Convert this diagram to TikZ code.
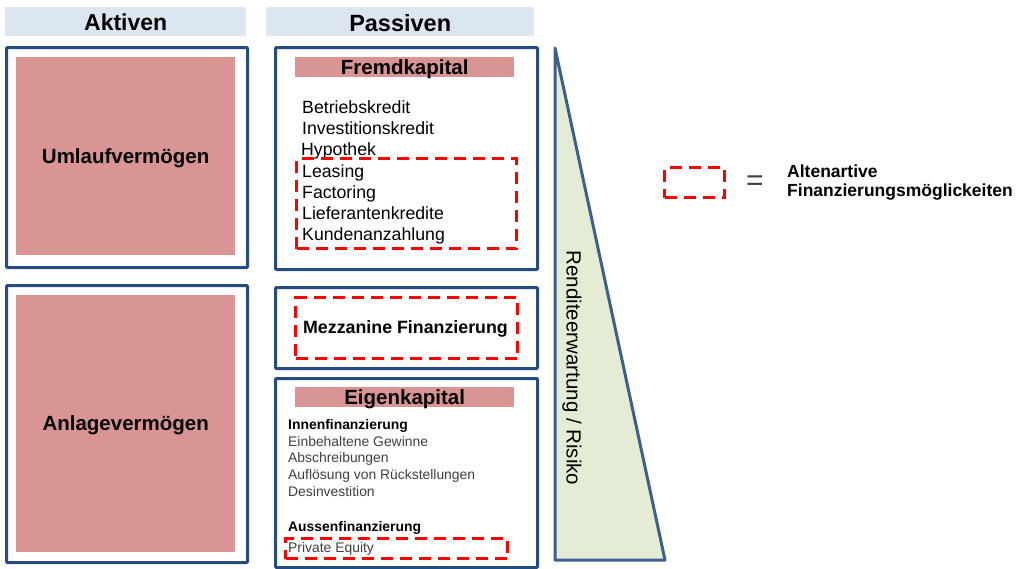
\documentclass[tikz,border=0pt]{standalone}
\usepackage{fontspec}
\setmainfont{Liberation Sans}
\definecolor{hdr}{HTML}{DCE6F2}
\definecolor{bord}{HTML}{244C80}
\definecolor{pink}{HTML}{D99594}
\definecolor{tri}{HTML}{E4ECD6}
\definecolor{tribord}{HTML}{3C5F8E}
\definecolor{graytxt}{HTML}{404040}
\newcommand{\fs}[1]{\fontsize{#1pt}{#1pt}\selectfont}
\tikzset{
  hdrbox/.style={fill=hdr, draw=none, anchor=north west, inner sep=0},
  outerbox/.style={draw=bord, line width=3pt, rounded corners=1pt, fill=white, anchor=north west, inner sep=0},
  pinkbox/.style={fill=pink, draw=none, anchor=north west, inner sep=0},
  altbox/.style={draw=red, line width=3pt, dash pattern=on 12pt off 7pt, anchor=north west, inner sep=0, fill=none},
  listtxt/.style={anchor=base west, inner sep=0, font=\fs{17.7}},
  smalltxt/.style={anchor=base west, inner sep=0, font=\fs{13.9}, text=graytxt},
  smallbold/.style={anchor=base west, inner sep=0, font=\fs{13.9}\bfseries},
}
\begin{document}
\begin{tikzpicture}[x=1pt,y=-1pt]
\useasboundingbox (0,0) rectangle (1018,568);
% headers
\node[hdrbox, minimum width=241, minimum height=29] (hA) at (5,7) {};
\node[font=\fs{23}\bfseries] at ([yshift=-1]hA.center) {Aktiven};
\node[hdrbox, minimum width=268, minimum height=29] (hP) at (266,7) {};
\node[font=\fs{23.5}\bfseries] at ([yshift=-1]hP.center) {Passiven};
% Aktiva
\node[outerbox, minimum width=241, minimum height=220] (ak1) at (5,46) {};
\node[pinkbox, minimum width=219, minimum height=198] (uv) at (16,57) {};
\node[font=\fs{20.5}\bfseries] at ([yshift=-2]uv.center) {Umlaufverm\"ogen};
\node[outerbox, minimum width=241, minimum height=277] (ak2) at (5,284) {};
\node[pinkbox, minimum width=219, minimum height=257] (av) at (16,295) {};
\node[font=\fs{20.5}\bfseries] at ([yshift=-2]av.center) {Anlageverm\"ogen};
% Passiva: Fremdkapital
\node[outerbox, minimum width=262, minimum height=222] (fk) at (274,46) {};
\node[pinkbox, minimum width=219, minimum height=20] (fkb) at (295,57) {};
\node[font=\fs{20.5}\bfseries] at ([yshift=-2]fkb.center) {Fremdkapital};
\node[listtxt] (l1) at (302,113) {Betriebskredit};
\node[listtxt] (l2) at (302,134) {Investitionskredit};
\node[listtxt] (l3) at (301,155) {Hypothek};
\node[listtxt] (l4) at (302,177) {Leasing};
\node[listtxt] (l5) at (302,198) {Factoring};
\node[listtxt] (l6) at (302,219) {Lieferantenkredite};
\node[listtxt] (l7) at (302,240) {Kundenanzahlung};
\node[altbox, minimum width=220, minimum height=90] (alt1) at (295,157) {};
% Mezzanine
\node[outerbox, minimum width=262, minimum height=81] (mz) at (274,286) {};
\node[altbox, minimum width=222, minimum height=61] (alt2) at (294,296) {};
\node[font=\fs{17.8}\bfseries] at ([xshift=-1,yshift=-1]alt2.center) {Mezzanine Finanzierung};
% Eigenkapital
\node[outerbox, minimum width=262, minimum height=189] (ek) at (274,377) {};
\node[pinkbox, minimum width=219, minimum height=20] (ekb) at (295,387) {};
\node[font=\fs{20.5}\bfseries] at ([yshift=-2]ekb.center) {Eigenkapital};
\node[smallbold] (e0) at (288,429) {Innenfinanzierung};
\node[smalltxt] (e1) at (288,446) {Einbehaltene Gewinne};
\node[smalltxt] (e2) at (288,462) {Abschreibungen};
\node[smalltxt] (e3) at (288,479) {Aufl\"osung von R\"uckstellungen};
\node[smalltxt] (e4) at (288,496) {Desinvestition};
\node[smallbold] (e5) at (288,531) {Aussenfinanzierung};
\node[smalltxt] (e6) at (288,552) {Private Equity};
\node[altbox, minimum width=222, minimum height=20] (alt3) at (284,537) {};
% triangle
\coordinate (t1) at (555,48);
\coordinate (t2) at (555,560);
\coordinate (t3) at (665,560);
\draw[fill=tri, draw=tribord, line width=3pt, line join=round] (t1) -- (t2) -- (t3) -- cycle;
\node[rotate=-90, font=\fs{20.5}] (rr) at (572,368) {Renditeerwartung / Risiko};
% legend
\node[altbox, minimum width=60, minimum height=30] (lg) at (663,166) {};
\node[font=\fs{30}, text=graytxt] (eq) at (755,183) {=};
\node[smallbold, font=\fs{17.5}\bfseries] (lt1) at (787,177) {Altenartive};
\node[smallbold, font=\fs{17.5}\bfseries] (lt2) at (787,196) {Finanzierungsm\"oglickeiten};
\end{tikzpicture}
\end{document}
